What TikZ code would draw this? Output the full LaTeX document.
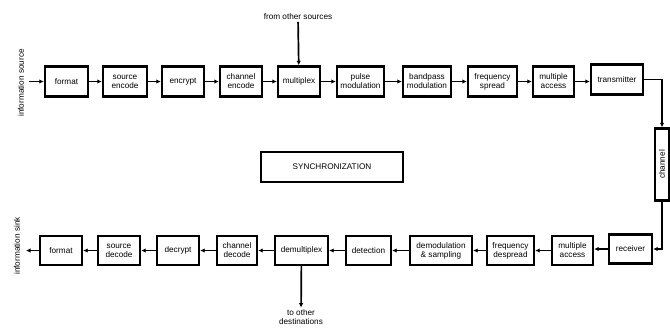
\documentclass[tikz,border=0pt]{standalone}
\usepackage{fontspec}
\setmainfont{Liberation Sans}
\usetikzlibrary{arrows.meta}
\begin{document}
\begin{tikzpicture}
[x=1pt,y=-1pt,line width=1.7pt,%
  every node/.style={font=\fontsize{8.2}{9}\selectfont,align=center,inner sep=1pt},
  block/.style={draw,line width=2.4pt,minimum height=30pt},
  flow/.style={-{Latex[length=4.5pt,width=4.5pt]}}]
\useasboundingbox (0,0) rectangle (670,330);
% transmit chain
\node[block,minimum width=43pt] (fmt) at (66.5,81.5) {format};
\node[block,minimum width=44pt] (srcenc) at (125,81.5) {source\\encode};
\node[block,minimum width=42pt] (enc) at (183,81.5) {encrypt};
\node[block,minimum width=42pt] (chenc) at (241,81.5) {channel\\encode};
\node[block,minimum width=42pt] (mux) at (299,81.5) {multiplex};
\node[block,minimum width=47pt] (pulse) at (360.5,81.5) {pulse\\modulation};
\node[block,minimum width=48pt] (bpmod) at (427,81.5) {bandpass\\modulation};
\node[block,minimum width=49pt] (spread) at (492.5,81.5) {frequency\\spread};
\node[block,minimum width=41pt] (macc) at (553.5,81.5) {multiple\\access};
\node[block,minimum width=52pt] (tx) at (617,79.5) {transmitter};
% receive chain
\node[block,minimum width=43pt,minimum height=29pt] (rx) at (630.5,249) {receiver};
\node[block,minimum width=41pt,minimum height=29pt] (macc2) at (572.5,250.5) {multiple\\access};
\node[block,minimum width=47pt,minimum height=29pt] (despread) at (510.5,250.5) {frequency\\despread};
\node[block,minimum width=62pt,minimum height=29pt] (demod) at (441,250.5) {demodulation\\\& sampling};
\node[block,minimum width=45pt,minimum height=29pt] (det) at (368.5,250.5) {detection};
\node[block,minimum width=53pt,minimum height=29pt] (demux) at (301.5,250.5) {demultiplex};
\node[block,minimum width=40pt,minimum height=29pt] (chdec) at (237,250.5) {channel\\decode};
\node[block,minimum width=42pt,minimum height=29pt] (dec) at (178,250.5) {decrypt};
\node[block,minimum width=42pt,minimum height=29pt] (srcdec) at (119,250.5) {source\\decode};
\node[block,minimum width=42pt,minimum height=29pt] (fmt2) at (61,250.5) {format};
% channel and sync
\node[block,minimum width=14pt,minimum height=72pt] (chan) at (662,164.5) {\rotatebox{90}{channel}};
\node[block,minimum width=142pt,minimum height=30pt] (sync) at (332,167) {SYNCHRONIZATION};
% outside labels
\node[rotate=90] (isrc) at (21,83) {information source};
\node[rotate=90] (isnk) at (17,246) {information sink};
\node (others) at (298,17) {from other sources};
\node (dests) at (301,317) {to other\\destinations};
\coordinate (in) at (29,81.5);
\coordinate (out) at (26,250.5);
% connectors
\draw[flow] (in) -- (fmt);
\draw[flow] (fmt) -- (srcenc);
\draw[flow] (srcenc) -- (enc);
\draw[flow] (enc) -- (chenc);
\draw[flow] (chenc) -- (mux);
\draw[flow] (mux) -- (pulse);
\draw[flow] (pulse) -- (bpmod);
\draw[flow] (bpmod) -- (spread);
\draw[flow] (spread) -- (macc);
\draw[flow] (macc) -- (macc -| tx.west);
\draw[flow] (others) -- (mux);
\draw[flow] (tx.east) -| (chan.north);
\draw[flow] (chan.south) |- (rx.east);
\draw[flow] (rx.west) -- (rx.west -| macc2.east);
\draw[flow] (macc2) -- (despread);
\draw[flow] (despread) -- (demod);
\draw[flow] (demod) -- (det);
\draw[flow] (det) -- (demux);
\draw[flow] (demux) -- (chdec);
\draw[flow] (chdec) -- (dec);
\draw[flow] (dec) -- (srcdec);
\draw[flow] (srcdec) -- (fmt2);
\draw[flow] (fmt2) -- (out);
\draw[flow] (demux) -- (dests);
\end{tikzpicture}
\end{document}
